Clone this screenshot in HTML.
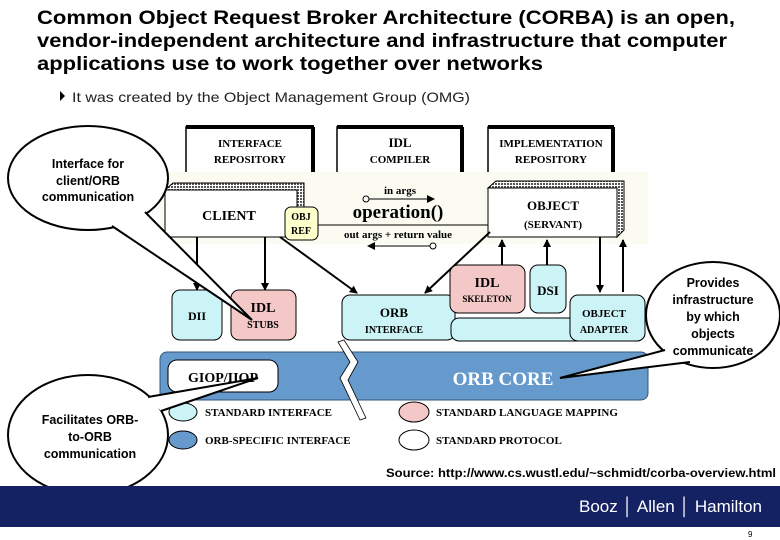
<!DOCTYPE html>
<html><head><meta charset="utf-8"><style>
html,body{margin:0;padding:0;background:#fff;}
svg{display:block;}
.t{font-family:"Liberation Sans",Arial,sans-serif;}
.s{font-family:"Liberation Serif","Times New Roman",serif;font-weight:bold;}
</style></head><body>
<svg width="780" height="540" viewBox="0 0 780 540" xmlns="http://www.w3.org/2000/svg">
<defs>
<pattern id="h" width="3" height="3" patternUnits="userSpaceOnUse"><rect width="3" height="3" fill="#fff"/><rect width="2" height="2" fill="#555"/></pattern>
<marker id="a" markerWidth="8" markerHeight="8" refX="7" refY="4" orient="auto" markerUnits="userSpaceOnUse"><path d="M0,0 L8,4 L0,8 z" fill="#000"/></marker>
</defs>
<rect width="780" height="540" fill="#fff"/>
<g class="t" font-weight="bold" font-size="19" fill="#000">
<text x="37" y="24" textLength="698" lengthAdjust="spacingAndGlyphs">Common Object Request Broker Architecture (CORBA) is an open,</text>
<text x="37" y="47" textLength="690" lengthAdjust="spacingAndGlyphs">vendor-independent architecture and infrastructure that computer</text>
<text x="37" y="70" textLength="506" lengthAdjust="spacingAndGlyphs">applications use to work together over networks</text>
</g>
<path d="M60,91 L65,96 L60,101 z" fill="#000"/>
<text class="t" x="72" y="102" font-size="14" textLength="398" lengthAdjust="spacingAndGlyphs" fill="#222">It was created by the Object Management Group (OMG)</text>

<rect x="160" y="172" width="488" height="72" fill="#fcfbf2"/>
<g fill="#fff" stroke="#000">
<path d="M186,172 V127 H313 V172" stroke-width="1.5"/>
<path d="M186,127 H314 M313,127 V172" stroke-width="4"/>
<path d="M337,172 V127 H462 V172" stroke-width="1.5"/>
<path d="M337,127 H463 M462,127 V172" stroke-width="4"/>
<path d="M488,172 V127 H613 V172" stroke-width="1.5"/>
<path d="M488,127 H614 M613,127 V172" stroke-width="4"/>
</g>
<g class="s" font-size="11" text-anchor="middle" fill="#000">
<text x="250" y="147">INTERFACE</text><text x="250" y="163">REPOSITORY</text>
<text x="400" y="147" font-size="13">IDL</text><text x="400" y="163">COMPILER</text>
<text x="551" y="147">IMPLEMENTATION</text><text x="551" y="163">REPOSITORY</text>
</g>
<path d="M165,190 L173,183 H304 V230 L297,237 V190 z" fill="url(#h)" stroke="#000"/>
<rect x="165" y="190" width="132" height="47" fill="#fff" stroke="#000"/>
<text class="s" x="229" y="220" font-size="14" text-anchor="middle">CLIENT</text>
<rect x="285" y="207" width="33" height="33" rx="6" fill="#ffffcc" stroke="#000"/>
<text class="s" x="301" y="220" font-size="10" text-anchor="middle">OBJ</text>
<text class="s" x="301" y="234" font-size="10" text-anchor="middle">REF</text>
<line x1="318" y1="225" x2="490" y2="225" stroke="#000"/>
<circle cx="366" cy="199" r="3" fill="#fff" stroke="#000"/>
<line x1="369" y1="199" x2="434" y2="199" stroke="#000" marker-end="url(#a)"/>
<text class="s" x="400" y="194" font-size="11" text-anchor="middle" font-weight="normal">in  args</text>
<text class="s" x="398" y="218" font-size="19" text-anchor="middle">operation()</text>
<text class="s" x="398" y="238" font-size="11" text-anchor="middle" font-weight="normal">out  args + return  value</text>
<line x1="430" y1="246" x2="368" y2="246" stroke="#000" marker-end="url(#a)"/>
<circle cx="433" cy="246" r="3" fill="#fff" stroke="#000"/>
<path d="M488,188 L496,181 H624 V230 L617,237 V188 z" fill="url(#h)" stroke="#000"/>
<rect x="488" y="188" width="129" height="49" fill="#fff" stroke="#000"/>
<text class="s" x="553" y="210" font-size="13" text-anchor="middle">OBJECT</text>
<text class="s" x="553" y="228" font-size="11" text-anchor="middle">(SERVANT)</text>
<g stroke="#000" stroke-width="2" marker-end="url(#a)">
<line x1="197" y1="237" x2="197" y2="290"/>
<line x1="265" y1="237" x2="265" y2="290"/>
<line x1="280" y1="237" x2="357" y2="293"/>
<line x1="490" y1="232" x2="425" y2="293"/>
<line x1="502" y1="265" x2="502" y2="240"/>
<line x1="547" y1="265" x2="547" y2="240"/>
<line x1="600" y1="237" x2="600" y2="292"/>
<line x1="623" y1="292" x2="623" y2="240"/>
</g>
<rect x="172" y="290" width="50" height="50" rx="8" fill="#ccf3f5" stroke="#000"/>
<text class="s" x="197" y="320" font-size="12" text-anchor="middle">DII</text>
<rect x="231" y="290" width="65" height="50" rx="8" fill="#f5c8c8" stroke="#000"/>
<rect x="342" y="295" width="113" height="45" rx="8" fill="#ccf3f5" stroke="#000"/>
<text class="s" x="394" y="317" font-size="13" text-anchor="middle">ORB</text>
<text class="s" x="394" y="333" font-size="10" text-anchor="middle">INTERFACE</text>
<rect x="451" y="318" width="194" height="23" rx="8" fill="#ccf3f5" stroke="#000"/>
<rect x="570" y="295" width="75" height="46" rx="8" fill="#ccf3f5" stroke="#000"/>
<text class="s" x="604" y="317" font-size="11" text-anchor="middle">OBJECT</text>
<text class="s" x="604" y="333" font-size="10" text-anchor="middle">ADAPTER</text>
<rect x="450" y="265" width="75" height="48" rx="8" fill="#f5c8c8" stroke="#000"/>
<text class="s" x="487" y="287" font-size="14" text-anchor="middle">IDL</text>
<text class="s" x="487" y="302" font-size="9" text-anchor="middle">SKELETON</text>
<rect x="530" y="265" width="36" height="48" rx="8" fill="#ccf3f5" stroke="#000"/>
<text class="s" x="548" y="295" font-size="13" text-anchor="middle">DSI</text>
<rect x="160" y="352" width="488" height="48" rx="7" fill="#6699cc" stroke="#335577"/>
<rect x="168" y="360" width="110" height="32" rx="9" fill="#fff" stroke="#000"/>
<text class="s" x="503" y="385" font-size="19" text-anchor="middle" fill="#fff" font-weight="normal">ORB  CORE</text>
<path d="M338,342 L350,362 L340,378 L360,420 L366,418 L348,380 L358,362 L344,340 z" fill="#fff" stroke="#000" stroke-width="0.8"/>
<ellipse cx="183" cy="412" rx="14" ry="9" fill="#ccf3f5" stroke="#000"/>
<text class="s" x="205" y="416" font-size="11" font-weight="normal">STANDARD  INTERFACE</text>
<ellipse cx="183" cy="440" rx="14" ry="9" fill="#6699cc" stroke="#000"/>
<text class="s" x="205" y="444" font-size="11" font-weight="normal">ORB-SPECIFIC  INTERFACE</text>
<ellipse cx="414" cy="412" rx="15" ry="10" fill="#f5c8c8" stroke="#000"/>
<text class="s" x="436" y="416" font-size="11" font-weight="normal">STANDARD  LANGUAGE  MAPPING</text>
<ellipse cx="414" cy="440" rx="15" ry="10" fill="#fff" stroke="#000"/>
<text class="s" x="436" y="444" font-size="11" font-weight="normal">STANDARD  PROTOCOL</text>

<!-- callout 1 -->
<ellipse cx="88" cy="178" rx="80" ry="52" fill="#fff" stroke="#000" stroke-width="2"/>
<path d="M112,226 L252,320 L145,212" fill="#fff" stroke="#000" stroke-width="2"/>
<text class="s" x="263" y="312" font-size="14" text-anchor="middle">IDL</text>
<text class="s" x="263" y="328" font-size="10" text-anchor="middle">STUBS</text>
<!-- callout 2 -->
<ellipse cx="713" cy="315" rx="67" ry="53" fill="#fff" stroke="#000" stroke-width="2"/>
<path d="M665,350 L560,378 L690,362" fill="#fff" stroke="#000" stroke-width="2"/>
<!-- callout 3 -->
<ellipse cx="88" cy="435" rx="80" ry="60" fill="#fff" stroke="#000" stroke-width="2"/>
<path d="M148,397 L258,378 L161,411" fill="#fff" stroke="#000" stroke-width="2"/>
<text class="s" x="223" y="382" font-size="14" text-anchor="middle" font-weight="normal">GIOP/IIOP</text>
<g class="t" font-weight="bold" font-size="12.5" text-anchor="middle">
<text x="88" y="168">Interface for</text><text x="88" y="185">client/ORB</text><text x="88" y="201">communication</text>
<text x="713" y="287">Provides</text><text x="713" y="304">infrastructure</text><text x="713" y="321">by which</text><text x="713" y="338">objects</text><text x="713" y="355">communicate</text>
<text x="90" y="424">Facilitates ORB-</text><text x="90" y="441">to-ORB</text><text x="90" y="458">communication</text>
</g>
<text class="t" x="776" y="477" font-size="12" font-weight="bold" text-anchor="end" textLength="390" lengthAdjust="spacingAndGlyphs">Source: http://www.cs.wustl.edu/~schmidt/corba-overview.html</text>
<rect x="0" y="486" width="780" height="41" fill="#142163"/>
<text class="t" x="762" y="512" font-size="17" fill="#fff" text-anchor="end" textLength="183" lengthAdjust="spacingAndGlyphs">Booz │ Allen │ Hamilton</text>
<text class="t" x="748" y="537" font-size="8" fill="#000">9</text>
</svg>
</body></html>
